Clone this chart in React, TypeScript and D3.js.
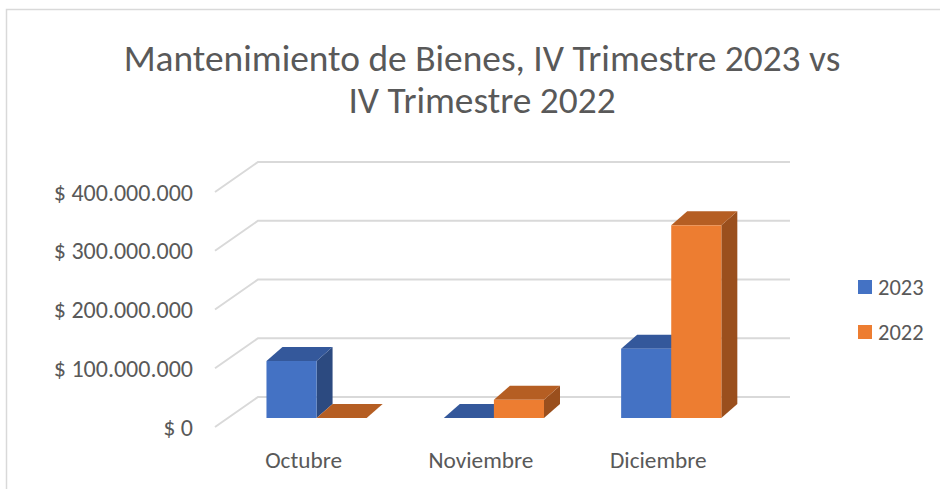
import React from 'react';
import * as d3 from 'd3';

const W = 940;
const H = 489;

const categories = ['Octubre', 'Noviembre', 'Diciembre'];
const series = ['2023', '2022'];
const values2023 = [97000000, 0, 118000000];
const values2022 = [0, 31000000, 328000000];
const yTicks = [0, 100000000, 200000000, 300000000, 400000000];
const titleLines = ['Mantenimiento de Bienes, IV Trimestre 2023 vs', 'IV Trimestre 2022'];

const colors: Record<string, { front: string; top: string; side: string }> = {
  '2023': { front: '#4472C4', top: '#34589B', side: '#2C4A80' },
  '2022': { front: '#ED7D31', top: '#B55E23', side: '#9A4F1D' },
};

const FONT = 'Carlito, Calibri, "Noto Sans", sans-serif';
const TXT = '#595959';
const GRID = '#d9d9d9';

// oblique "3d" wall depth and bar depth
const DX = 43;
const DY = -30;
const BAR_D = 0.3; // where the bars sit inside the floor depth
const BDX = 16;
const BDY = -14;

export default function App() {
  const x0 = d3.scaleBand<string>().domain(categories).range([215, 747]).padding(0);
  const x1 = d3
    .scaleBand<string>()
    .domain(series)
    .range([0, x0.bandwidth()])
    .paddingInner(0)
    .paddingOuter(0.77);
  const y = d3.scaleLinear().domain([0, 400000000]).range([427, 192]);

  const loc = d3.formatLocale({
    decimal: ',',
    thousands: '.',
    grouping: [3],
    currency: ['$ ', ''],
  });
  const fmt = loc.format('$,.0f');

  const data = categories.map((c, i) => ({ c, vals: [values2023[i], values2022[i]] }));

  const offX = DX * BAR_D;
  const offY = DY * BAR_D;

  const bars: React.ReactNode[] = [];
  data.forEach((d) => {
    series.forEach((s, j) => {
      const v = d.vals[j];
      const xl = (x0(d.c) as number) + (x1(s) as number) + offX;
      const bw = x1.bandwidth();
      const xr = xl + bw;
      const yb = y(0) + offY;
      const yt = y(v) + offY;
      const col = colors[s];
      const top = `M${xl},${yt}L${xr},${yt}L${xr + BDX},${yt + BDY}L${xl + BDX},${yt + BDY}Z`;
      const side = `M${xr},${yt}L${xr + BDX},${yt + BDY}L${xr + BDX},${yb + BDY}L${xr},${yb}Z`;
      bars.push(
        <g key={d.c + s}>
          {v > 0 && <path d={side} fill={col.side} />}
          <path d={top} fill={col.top} />
          {v > 0 && <rect x={xl} y={yt} width={bw} height={yb - yt} fill={col.front} />}
        </g>
      );
    });
  });

  return (
    <svg
      width={W}
      height={H}
      style={{ position: 'absolute', left: 0, top: 0, background: '#fff' }}
      fontFamily={FONT}
    >
      <rect x={6.5} y={9.5} width={980} height={520} fill="#fff" stroke={GRID} strokeWidth={1.5} />

      {titleLines.map((t, i) => (
        <text
          key={i}
          x={482}
          y={58 + i * 42}
          textAnchor="middle"
          dominantBaseline="central"
          fontSize={37.4}
          fill={TXT}
        >
          {t}
        </text>
      ))}

      {yTicks.map((t) => {
        const yy = y(t);
        return (
          <g key={t}>
            <path
              d={`M${215},${yy}L${215 + DX},${yy + DY}L${790},${yy + DY}`}
              fill="none"
              stroke={GRID}
              strokeWidth={2}
            />
            <text
              x={193}
              y={yy}
              textAnchor="end"
              dominantBaseline="central"
              fontSize={24}
              fill={TXT}
            >
              {fmt(t)}
            </text>
          </g>
        );
      })}

      {bars}

      {categories.map((c) => (
        <text
          key={c}
          x={(x0(c) as number) + x0.bandwidth() / 2}
          y={460}
          textAnchor="middle"
          dominantBaseline="central"
          fontSize={23.3}
          fill={TXT}
        >
          {c}
        </text>
      ))}

      {series.map((s, i) => (
        <g key={s} transform={`translate(858,${280 + i * 45})`}>
          <rect width={14} height={14} fill={colors[s].front} />
          <text x={20} y={7} dominantBaseline="central" fontSize={22.5} fill={TXT}>
            {s}
          </text>
        </g>
      ))}
    </svg>
  );
}
